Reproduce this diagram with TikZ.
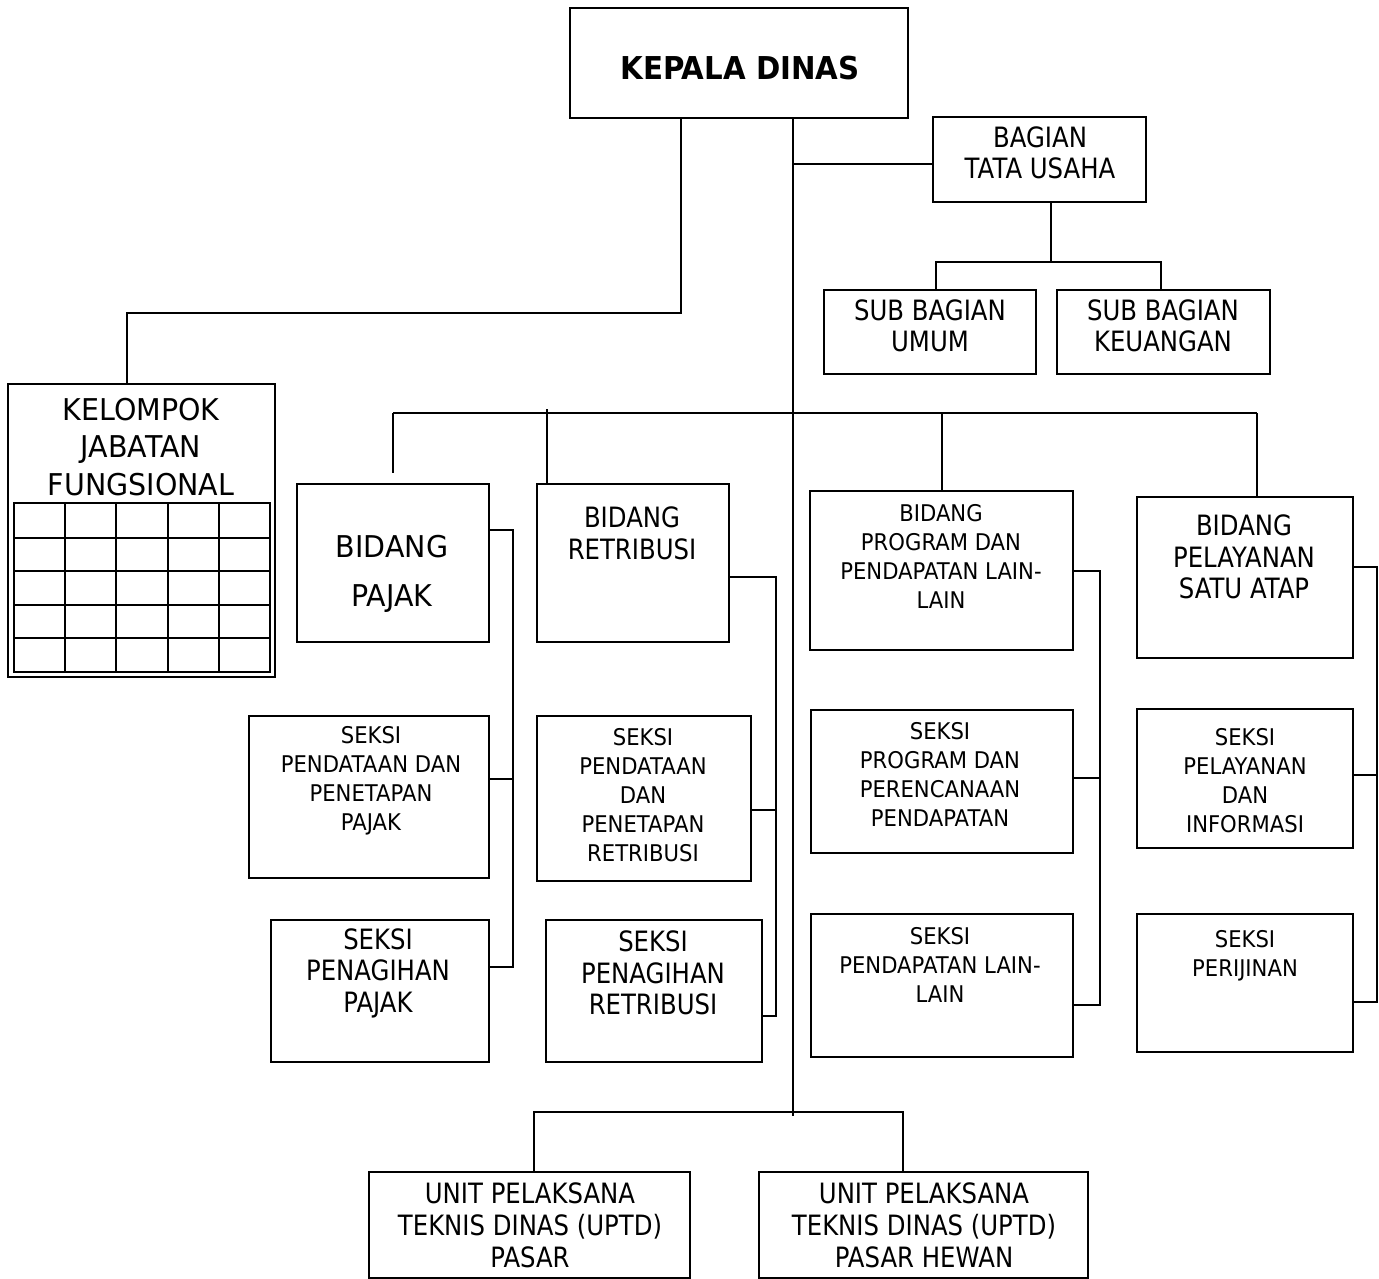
\documentclass[tikz,border=0pt]{standalone}
\usepackage{fontspec}
\setmainfont{DejaVu Sans}[FakeStretch=0.92]
\newfontfamily\fsm{DejaVu Sans}[FakeStretch=0.92]
\newfontfamily\fmd{DejaVu Sans}[FakeStretch=0.87]
\newfontfamily\flg{DejaVu Sans}[FakeStretch=0.95]
\newfontfamily\fbd{DejaVu Sans}[FakeStretch=0.93]
\usetikzlibrary{fit}
\begin{document}
\begin{tikzpicture}[x=1pt,y=-1pt,
  box/.style={draw, line width=1.6pt, inner sep=0pt, outer sep=0pt},
  conn/.style={line width=1.6pt},
  sm/.style={font=\fsm\fontsize{23}{29}\selectfont, align=center, inner sep=0pt},
  md/.style={font=\fmd\fontsize{28}{31.5}\selectfont, align=center, inner sep=0pt},
  lg/.style={font=\flg\fontsize{30}{37.5}\selectfont, align=center, inner sep=0pt},
  hd/.style={font=\fbd\fontsize{31.5}{36}\selectfont\bfseries, align=center, inner sep=0pt}]
\useasboundingbox (0,0) rectangle (1379,1279);
\fill[white] (0,0) rectangle (1379,1279);

% boxes
\node[box, fit={(570,8) (908,118)}] (kepala) {};
\node[box, fit={(933,117) (1146,202)}] (tu) {};
\node[box, fit={(824,290) (1036,374)}] (umum) {};
\node[box, fit={(1057,290) (1270,374)}] (keu) {};
\node[box, line width=1.2pt, fit={(8,384) (275,677)}] (jf) {};
\node[box, fit={(297,484) (489,642)}] (bpajak) {};
\node[box, fit={(537,484) (729,642)}] (bret) {};
\node[box, fit={(810,491) (1073,650)}] (bprog) {};
\node[box, fit={(1137,497) (1353,658)}] (bpel) {};
\node[box, fit={(249,716) (489,878)}] (spend) {};
\node[box, fit={(271,920) (489,1062)}] (spnag) {};
\node[box, fit={(537,716) (751,881)}] (srpend) {};
\node[box, fit={(546,920) (762,1062)}] (srnag) {};
\node[box, fit={(811,710) (1073,853)}] (sprog) {};
\node[box, fit={(811,914) (1073,1057)}] (slain) {};
\node[box, fit={(1137,709) (1353,848)}] (sinfo) {};
\node[box, fit={(1137,914) (1353,1052)}] (sijin) {};
\node[box, fit={(369,1172) (690,1278)}] (upasar) {};
\node[box, fit={(759,1172) (1088,1278)}] (uhewan) {};

% grid inside KELOMPOK JABATAN FUNGSIONAL
\draw[line width=2.2pt] (14,503) rectangle (270,672);
\foreach \gx in {65,116,168,219} \draw[line width=1.8pt] (\gx,503) -- (\gx,672);
\foreach \gy in {538,571,605,638} \draw[line width=1.8pt] (14,\gy) -- (270,\gy);

% texts
\node[hd] (t-kepala) at (740,68) {KEPALA DINAS};
\node[md] (t-tu) at (1040,153) {BAGIAN\\TATA USAHA};
\node[md] (t-umum) at (930,326) {SUB BAGIAN\\UMUM};
\node[md] (t-keu) at (1163,326) {SUB BAGIAN\\KEUANGAN};
\node[lg] (t-jf) at (141,447) {KELOMPOK\\JABATAN\\FUNGSIONAL};
\node[lg, font=\flg\fontsize{30}{49}\selectfont] (t-bpajak) at (392,574) {BIDANG\\PAJAK};
\node[md, font=\fmd\fontsize{28}{32}\selectfont] (t-bret) at (632,533) {BIDANG\\RETRIBUSI};
\node[sm] (t-bprog) at (941,556) {BIDANG\\PROGRAM DAN\\PENDAPATAN LAIN-\\LAIN};
\node[md] (t-bpel) at (1244,557) {BIDANG\\PELAYANAN\\SATU ATAP};
\node[sm] (t-spend) at (371,780.5) {SEKSI\\PENDATAAN DAN\\PENETAPAN\\PAJAK};
\node[md] (t-spnag) at (378,973) {SEKSI\\PENAGIHAN\\PAJAK};
\node[sm] (t-srpend) at (643,795) {SEKSI\\PENDATAAN\\DAN\\PENETAPAN\\RETRIBUSI};
\node[md] (t-srnag) at (653,973) {SEKSI\\PENAGIHAN\\RETRIBUSI};
\node[sm] (t-sprog) at (940,774.5) {SEKSI\\PROGRAM DAN\\PERENCANAAN\\PENDAPATAN};
\node[sm] (t-slain) at (940,965) {SEKSI\\PENDAPATAN LAIN-\\LAIN};
\node[sm] (t-sinfo) at (1245,780.5) {SEKSI\\PELAYANAN\\DAN\\INFORMASI};
\node[sm] (t-sijin) at (1245,956) {SEKSI\\PERIJINAN};
\node[md, font=\fmd\fontsize{28}{32}\selectfont] (t-upasar) at (530,1225) {UNIT PELAKSANA\\TEKNIS DINAS (UPTD)\\PASAR};
\node[md, font=\fmd\fontsize{28}{32}\selectfont] (t-uhewan) at (924,1225) {UNIT PELAKSANA\\TEKNIS DINAS (UPTD)\\PASAR HEWAN};

% bend coordinates
\coordinate (jfa) at (681,313);
\coordinate (jfb) at (127,313);
\coordinate (trunk) at (793,1116);
\coordinate (tuj) at (793,164);
\coordinate (tub) at (1051,262);
\coordinate (tul) at (936,262);
\coordinate (tur) at (1161,262);
\coordinate (busL) at (393,413);
\coordinate (busR) at (1257,413);
\coordinate (dret) at (547,409);
\coordinate (dprog) at (942,413);
\coordinate (pj1) at (513,530);
\coordinate (pj2) at (513,779);
\coordinate (pj3) at (513,967);
\coordinate (rt1) at (776,577);
\coordinate (rt2) at (776,810);
\coordinate (rt3) at (776,1016);
\coordinate (pg1) at (1100,571);
\coordinate (pg2) at (1100,778);
\coordinate (pg3) at (1100,1005);
\coordinate (pl1) at (1377,567);
\coordinate (pl2) at (1377,775);
\coordinate (pl3) at (1377,1002);
\coordinate (ubL) at (534,1112);
\coordinate (ubR) at (903,1112);

% connectors
\draw[conn] (jfa |- kepala.south) -- (jfa) -- (jfb) -- (jfb |- jf.north);
\draw[conn] (trunk |- kepala.south) -- (trunk);
\draw[conn] (tuj) -- (tuj -| tu.west);
\draw[conn] (tub |- tu.south) -- (tub);
\draw[conn] (tul |- umum.north) -- (tul) -- (tur) -- (tur |- keu.north);
\draw[conn] (busL) -- (busR);
\draw[conn] (busL) -- ([yshift=11pt]busL |- bpajak.north);
\draw[conn] (dret) -- (dret |- bret.north);
\draw[conn] (dprog) -- (dprog |- bprog.north);
\draw[conn] (busR) -- (busR |- bpel.north);
\draw[conn] (pj1 -| bpajak.east) -- (pj1) -- (pj3) -- (pj3 -| spnag.east);
\draw[conn] (pj2) -- (pj2 -| spend.east);
\draw[conn] (rt1 -| bret.east) -- (rt1) -- (rt3) -- (rt3 -| srnag.east);
\draw[conn] (rt2) -- (rt2 -| srpend.east);
\draw[conn] (pg1 -| bprog.east) -- (pg1) -- (pg3) -- (pg3 -| slain.east);
\draw[conn] (pg2) -- (pg2 -| sprog.east);
\draw[conn] (pl1 -| bpel.east) -- (pl1) -- (pl3) -- (pl3 -| sijin.east);
\draw[conn] (pl2) -- (pl2 -| sinfo.east);
\draw[conn] (ubL |- upasar.north) -- (ubL) -- (ubR) -- (ubR |- uhewan.north);
\end{tikzpicture}
\end{document}
